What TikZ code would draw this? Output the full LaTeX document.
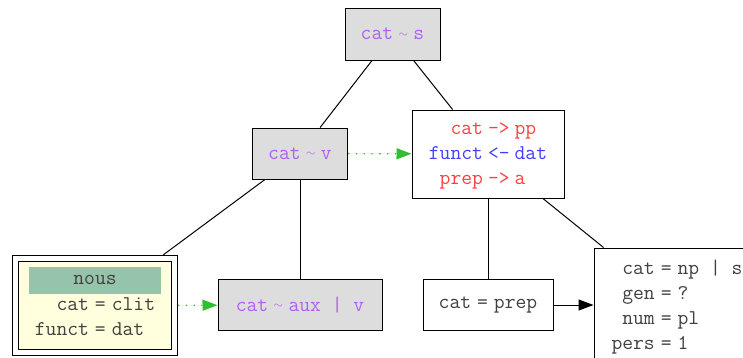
\documentclass[tikz,border=0pt]{standalone}
\usepackage{fontspec}
\usetikzlibrary{arrows.meta}
\definecolor{featpurple}{RGB}{176,96,240}
\definecolor{featred}{RGB}{255,64,64}
\definecolor{featblue}{RGB}{64,64,255}
\definecolor{feattext}{RGB}{64,64,64}
\definecolor{boxgray}{RGB}{221,221,221}
\definecolor{nousyellow}{RGB}{255,255,221}
\definecolor{nousgreen}{RGB}{150,196,170}
\definecolor{linkgreen}{RGB}{50,190,50}
\newcommand{\tld}{\hspace{5.5pt}\raisebox{2.5pt}{\fontsize{13}{13}\selectfont$\sim$}\hspace{5.5pt}}
\newcommand{\eqs}{\hspace{6pt}=\hspace{6pt}}
\newcommand{\rarr}{\hspace{5pt}->\hspace{5pt}}
\newcommand{\larr}{\hspace{5pt}<-\hspace{5pt}}
\begin{document}
\begin{tikzpicture}[x=1pt, y=-1pt, line width=1pt,
  every node/.style={font=\ttfamily\fontsize{21}{25}\selectfont, text=feattext, inner sep=0pt},
  graybox/.style={draw, rectangle, fill=boxgray, text=featpurple},
  whitebox/.style={draw, rectangle, fill=white},
  link/.style={-{Triangle[length=15pt,width=11pt]}, draw=linkgreen, fill=linkgreen, line width=1.3pt, dash pattern=on 1.3pt off 6.5pt},
  tip/.style={-{Triangle[length=15pt,width=11pt]}}]
\useasboundingbox (0,0) rectangle (743,357);
\clip (0,0) rectangle (743,357);

\node[graybox, minimum width=95, minimum height=52] (cats) at (392.5,34) {cat\tld s};
\node[graybox, minimum width=95, minimum height=51] (catv) at (300,153.5) {cat\tld v};
\node[whitebox, minimum width=152, minimum height=88] (pp) at (488,154) {\begin{tabular}{@{}r@{}l@{}}
  \color{featred}cat & \color{featred}\rarr pp\\
  \color{featblue}funct & \color{featblue}\larr dat\\
  \color{featred}prep & \color{featred}\rarr a
\end{tabular}};

\node[draw, fill=nousyellow, double=white, double distance=4.5pt, outer sep=3.5pt, minimum width=159, minimum height=94] (nous) at (95,305.5) {};
\node[fill=nousgreen, minimum width=132, minimum height=27] (noushead) at (95,280) {nous};
\node (nousfeat) at (95,317.5) {\begin{tabular}{@{}r@{}l@{}}
  cat & \eqs clit\\
  funct & \eqs dat
\end{tabular}};
\node[graybox, minimum width=164, minimum height=51] (aux) at (300,305) {cat\tld aux | v};
\node[whitebox, minimum width=130, minimum height=51] (prep) at (488,305) {cat\eqs prep};
\node[whitebox, minimum width=166, minimum height=118] (np) at (677,307) {\begin{tabular}{@{}r@{}l@{}}
  cat & \eqs np | s\\
  gen & \eqs ?\\
  num & \eqs pl\\
  pers & \eqs 1
\end{tabular}};

\draw (cats) -- (catv);
\draw (cats) -- (pp);
\draw (catv) -- (nous);
\draw (catv) -- (aux);
\draw (pp) -- (prep);
\draw (pp) -- (np);

\draw[link] (catv) -- (pp);
\draw[link] (nous) -- (aux);
\draw[tip] (prep) -- (prep -| np.west);
\end{tikzpicture}
\end{document}
